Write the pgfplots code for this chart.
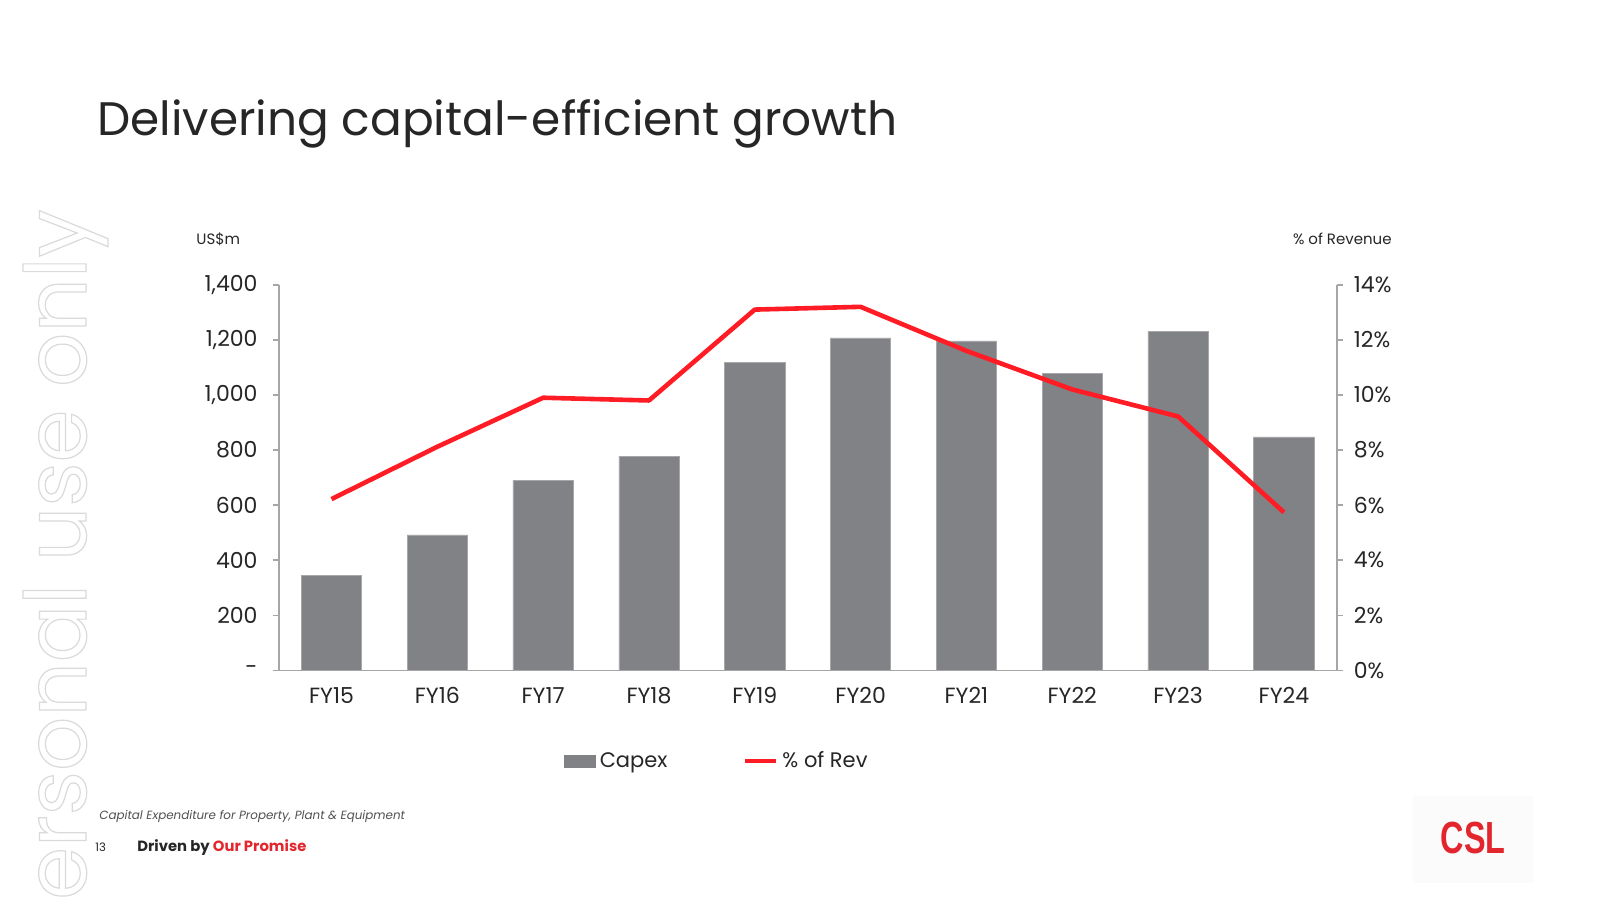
\documentclass[border=0pt]{standalone}
\usepackage{fontspec}
\setmainfont{Poppins}
\newfontfamily\logofont{Liberation Sans}
\usepackage{pgfplots}
\pgfplotsset{compat=1.18}
\definecolor{bargray}{HTML}{818286}
\definecolor{linered}{HTML}{FF1C24}
\definecolor{axgray}{HTML}{A6A6A6}
\definecolor{txt}{HTML}{262626}
\definecolor{cslred}{HTML}{E3262D}
\definecolor{promisered}{HTML}{E3262D}
\definecolor{wmgray}{HTML}{DADADA}

\begin{document}
\begin{tikzpicture}[x=1pt,y=1pt]
\useasboundingbox (0,0) rectangle (800,450);
\fill[white] (0,0) rectangle (800,450);
% watermark (outlined text)
\node[rotate=90, anchor=base east, inner sep=0, font=\fontsize{42.5}{42.5}\selectfont, text=wmgray] at (43,345.5) {\special{pdf:literal direct 1 Tr 0.6 w}ersonal use only\special{pdf:literal direct 0 Tr}};
% title
\node[anchor=base west, inner sep=0, font=\fontsize{23.5}{23.5}\selectfont, text=txt] at (48.5,382) {Delivering capital-efficient growth};
% axis unit labels
\node[anchor=west, inner sep=0, font=\fontsize{7.5}{7.5}\selectfont, text=txt] at (98,330.5) {US\$m};
\node[anchor=east, inner sep=0, font=\fontsize{7.5}{7.5}\selectfont, text=txt] at (696,330.5) {\% of Revenue};

\begin{axis}[
  at={(139.3pt,114.8pt)}, anchor=south west, scale only axis,
  width=529.1pt, height=192.8pt,
  xmin=-0.5, xmax=9.5, ymin=0, ymax=1400,
  axis x line*=bottom, axis y line*=left,
  axis line style={axgray, line width=0.9pt},
  xtick={0,...,9},
  xticklabels={FY15,FY16,FY17,FY18,FY19,FY20,FY21,FY22,FY23,FY24},
  x tick style={draw=none},
  ytick={0,200,...,1400},
  yticklabels={-,200,400,600,800,{1,000},{1,200},{1,400}},
  y tick style={axgray, line width=0.8pt},
  tick align=outside, major tick length=3pt,
  tick label style={font=\fontsize{11}{11}\selectfont, text=txt},
  yticklabel style={xshift=-4pt},
  xticklabel style={yshift=-2pt},
  ybar, bar width=0.57,
]
\addplot[fill=bargray, draw=bargray!70!white, line width=0.3pt] coordinates {
 (0,345) (1,492) (2,689) (3,778) (4,1117) (5,1207) (6,1196) (7,1078) (8,1230) (9,848)};
\end{axis}

\begin{axis}[
  at={(139.3pt,114.8pt)}, anchor=south west, scale only axis,
  width=529.1pt, height=192.8pt,
  xmin=-0.5, xmax=9.5, ymin=0, ymax=14,
  axis x line=none, axis y line*=right,
  axis line style={axgray, line width=0.9pt},
  ytick={0,2,...,14},
  yticklabels={0\%,2\%,4\%,6\%,8\%,10\%,12\%,14\%},
  y tick style={axgray, line width=0.8pt},
  tick align=outside, major tick length=3pt,
  tick label style={font=\fontsize{11}{11}\selectfont, text=txt},
  yticklabel style={xshift=2pt},
  legend style={at={(0.415,-0.236)}, anchor=center, draw=none, fill=none,
    legend columns=2, font=\fontsize{10.5}{10.5}\selectfont, text=txt,
    /tikz/every even column/.append style={column sep=36pt}},
  legend cell align=left,
]
\addlegendimage{legend image code/.code={\fill[bargray] (0pt,-3pt) rectangle (15.5pt,3pt);}}
\addlegendentry{Capex}
\addplot[linered, line width=2.3pt, line join=round,
  legend image code/.code={\draw[linered, line width=2pt] (0pt,0pt) -- (15.5pt,0pt);}]
  coordinates {(0,6.22) (1,8.12) (2,9.9) (3,9.8) (4,13.1) (5,13.2) (6,11.6) (7,10.2) (8,9.22) (9,5.74)};
\addlegendentry{\% of Rev}
\end{axis}

% footer
\node[anchor=base west, inner sep=0, font=\fontsize{5.95}{5.95}\selectfont\itshape, text=txt!80] at (49.5,40.5) {Capital Expenditure for Property, Plant \& Equipment};
\node[anchor=base west, inner sep=0, font=\fontsize{5.8}{5.8}\selectfont, text=txt] at (47.5,24.5) {13};
\node[anchor=base west, inner sep=0, font=\fontsize{7.4}{7.4}\selectfont\bfseries, text=txt] at (68.5,24.5) {Driven by \textcolor{promisered}{Our Promise}};
% logo
\fill[gray!3] (706.5,52) rectangle (766.5,8.5);
\node[inner sep=0, font=\logofont\bfseries\fontsize{22.5}{22.5}\selectfont, text=cslred, xscale=0.72] at (736.5,31) {CSL};
\end{tikzpicture}
\end{document}
